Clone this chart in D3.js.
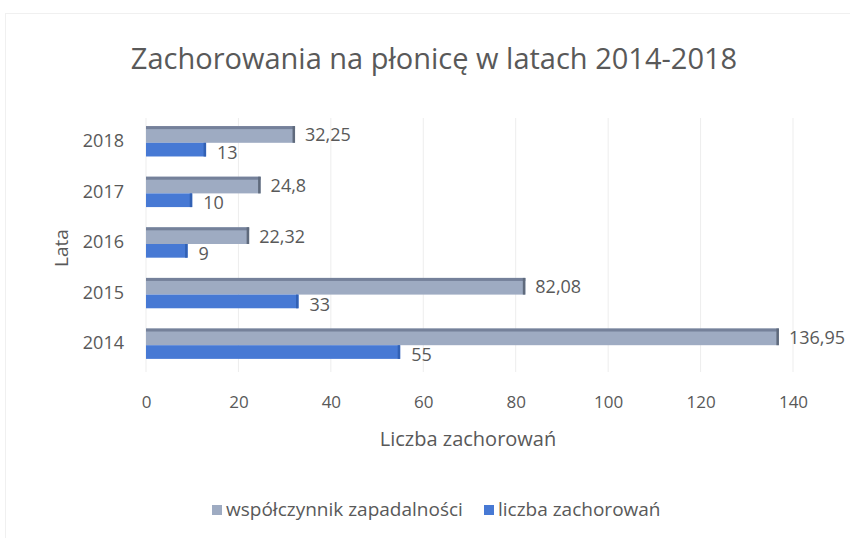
<!DOCTYPE html>
<html>
<head>
<meta charset="utf-8">
<script src="https://cdn.jsdelivr.net/npm/d3@7"></script>
<style>
  body { margin: 0; background: #fff; }
  text { font-family: "Open Sans", Lato, sans-serif; fill: #595959; }
</style>
</head>
<body>
<script>
// dane z wykresu
var years = ["2018", "2017", "2016", "2015", "2014"];
var wspolczynnik = [32.25, 24.8, 22.32, 82.08, 136.95];
var liczba = [13, 10, 9, 33, 55];
var wspLabels = ["32,25", "24,8", "22,32", "82,08", "136,95"];
var liczbaLabels = ["13", "10", "9", "33", "55"];
var xTicks = [0, 20, 40, 60, 80, 100, 120, 140];

var width = 850, height = 538;

var svg = d3.select("body").append("svg").attr("width", width).attr("height", height);

// ramka
svg.append("rect").attr("x", 5.5).attr("y", 13.5).attr("width", 850).attr("height", 530)
   .attr("fill", "#fff").attr("stroke", "#f0f0f0");

svg.append("text").attr("x", 434).attr("y", 69).attr("text-anchor", "middle")
   .style("font-size", "29px").text("Zachorowania na płonicę w latach 2014-2018");

var x = d3.scaleLinear().domain([0, 140]).range([146, 793]);
var y = d3.scaleBand().domain(years).range([116, 369]).paddingInner(0.4).paddingOuter(0.2);

// siatka
svg.selectAll("line.grid").data(xTicks).enter().append("line")
   .attr("class", "grid")
   .attr("x1", function(d){ return x(d); }).attr("x2", function(d){ return x(d); })
   .attr("y1", 118).attr("y2", 372)
   .attr("stroke", "#ededed");

var bh = y.bandwidth() / 2;
var gh = bh + 1.5;

var groups = svg.selectAll("g.yr").data(years).enter().append("g")
   .attr("class", "yr")
   .attr("transform", function(d){ return "translate(0," + y(d) + ")"; });

// szary - współczynnik
groups.append("rect").attr("x", x(0)).attr("y", 0)
   .attr("width", function(d,i){ return x(wspolczynnik[i]) - x(0); })
   .attr("height", gh).attr("fill", "#9eabc2");
groups.append("rect").attr("x", x(0)).attr("y", 0)
   .attr("width", function(d,i){ return x(wspolczynnik[i]) - x(0); })
   .attr("height", 3).attr("fill", "#75819a");
groups.append("rect").attr("x", function(d,i){ return x(wspolczynnik[i]) - 2.5; }).attr("y", 0)
   .attr("width", 2.5).attr("height", gh).attr("fill", "#5f6a7c");

// niebieski - liczba
groups.append("rect").attr("x", x(0)).attr("y", gh)
   .attr("width", function(d,i){ return x(liczba[i]) - x(0); })
   .attr("height", 2 * bh - gh).attr("fill", "#4779d4");
groups.append("rect").attr("x", function(d,i){ return x(liczba[i]) - 2.5; }).attr("y", gh)
   .attr("width", 2.5).attr("height", 2 * bh - gh).attr("fill", "#3261b4");

groups.append("text")
   .attr("x", function(d,i){ return x(wspolczynnik[i]) + 10; })
   .attr("y", gh / 2 + 7)
   .style("font-size", "18px")
   .text(function(d,i){ return wspLabels[i]; });
groups.append("text")
   .attr("x", function(d,i){ return x(liczba[i]) + 11; })
   .attr("y", bh * 1.5 + 10)
   .style("font-size", "18px")
   .text(function(d,i){ return liczbaLabels[i]; });

// oś X
var xAxis = svg.append("g").attr("transform", "translate(0,380)")
   .call(d3.axisBottom(x).tickValues(xTicks).tickSize(0).tickPadding(16));
xAxis.select(".domain").remove();
xAxis.selectAll("text").style("font-size", "17px").style("font-family", "'Open Sans', sans-serif").attr("fill", "#595959");

// oś Y
var yAxis = svg.append("g").attr("transform", "translate(" + x(0) + ",0)")
   .call(d3.axisLeft(y).tickSize(0).tickPadding(22));
yAxis.select(".domain").remove();
yAxis.selectAll("text").style("font-size", "18px").style("font-family", "'Open Sans', sans-serif").attr("fill", "#595959");

svg.append("text").attr("x", 468).attr("y", 446).attr("text-anchor", "middle")
   .style("font-size", "20px").text("Liczba zachorowań");
svg.append("text").attr("transform", "translate(68,248) rotate(-90)").attr("text-anchor", "middle")
   .style("font-size", "19px").text("Lata");

// legenda
var legend = [["współczynnik zapadalności", "#9eabc2"], ["liczba zachorowań", "#4779d4"]];
var lx = [212, 484];
legend.forEach(function(l, i){
  svg.append("rect").attr("x", lx[i]).attr("y", 505).attr("width", 10).attr("height", 10).attr("fill", l[1]);
  svg.append("text").attr("x", lx[i] + 14).attr("y", 516).style("font-size", "19px").text(l[0]);
});
</script>
</body>
</html>
